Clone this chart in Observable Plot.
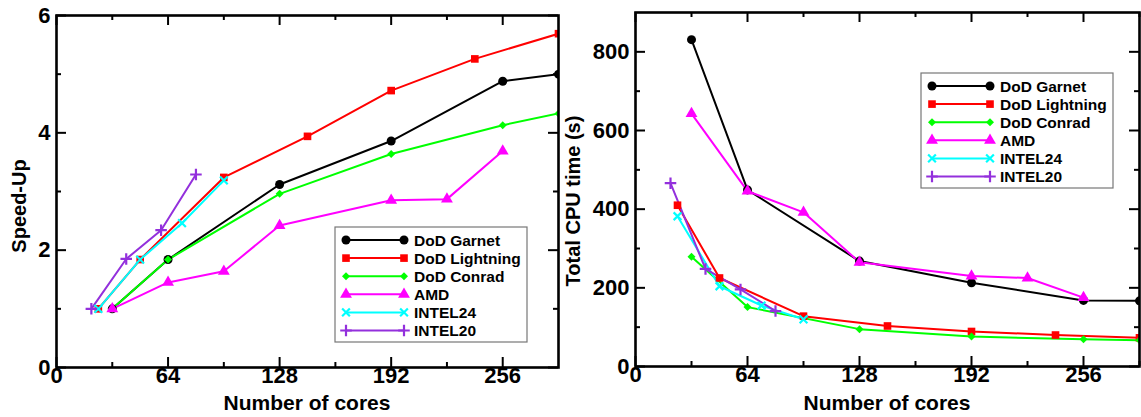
<!DOCTYPE html>
<html><head><meta charset="utf-8">
<script src="https://cdn.jsdelivr.net/npm/d3@7"></script>
<script src="https://cdn.jsdelivr.net/npm/@observablehq/plot@0.6"></script>
<style>
body{margin:0;background:#fff;}
#wrap{position:relative;width:1141px;height:417px;overflow:hidden;font-family:"Liberation Sans",Arial,sans-serif;}
.panel{position:absolute;top:0;}
.legend{position:absolute;}
.overlay{position:absolute;left:0;top:0;pointer-events:none;}
</style></head><body><div id="wrap"></div>
<script>
const seriesNames = ["DoD Garnet","DoD Lightning","DoD Conrad","AMD","INTEL24","INTEL20"];
const seriesColors = ["#000000","#ff0000","#00ff00","#ff00ff","#00ffff","#9330dc"];
const seriesSymbols = ["circle","square","diamond2","triangle","times","plus"];

const coresGarnet = [32,64,128,192,256,288];
const speedGarnet = [1,1.84,3.12,3.86,4.88,5.0];
const timeGarnet = [831,449,268,213,168,167];

const coresLightning = [24,48,96,144,192,240,288];
const speedLightning = [1,1.84,3.24,3.94,4.72,5.26,5.69];
const timeLightning = [410,225,128,103,89,80,73];

const coresConrad = [32,64,128,192,256,288];
const speedConrad = [1,1.84,2.96,3.64,4.13,4.33];
const timeConrad = [279,151,95,76,69,67];

const coresAMD = [32,64,96,128,192,224,256];
const speedAMD = [1,1.45,1.64,2.42,2.85,2.87,3.69];
const timeAMD = [643,446,392,265,230,225,175];

const coresIntel24 = [24,48,72,96];
const speedIntel24 = [1,1.84,2.46,3.19];
const timeIntel24 = [382,204,155,120];

const coresIntel20 = [20,40,60,80];
const speedIntel20 = [1,1.85,2.34,3.29];
const timeIntel20 = [466,248,196,141];

const xMajorTicks = [0,64,128,192,256];
const xMinorTicks = [32,96,160,224];
const speedMajorTicks = [0,2,4,6];
const speedMinorTicks = [1,3,5];
const timeMajorTicks = [0,200,400,600,800];
const timeMinorTicks = [100,300,500,700];

const coresAll = [coresGarnet,coresLightning,coresConrad,coresAMD,coresIntel24,coresIntel20];
const speedAll = [speedGarnet,speedLightning,speedConrad,speedAMD,speedIntel24,speedIntel20];
const timeAll = [timeGarnet,timeLightning,timeConrad,timeAMD,timeIntel24,timeIntel20];

const FONT = "Liberation Sans, Arial, Helvetica, sans-serif";
const symbolR = {circle:4.5, square:4.3, diamond2:3.6, triangle:4.4, times:3.6, plus:3.8};
const strokeSymbols = new Set(["times","plus"]);

function rows(values){
  return seriesNames.flatMap((name,i)=>coresAll[i].map((c,j)=>({series:name, idx:i, cores:c, value:values[i][j]})));
}

function panel(o){
  const data = rows(o.values);
  const H = 417 - o.mT - o.mB, W = o.width - o.mL - o.mR;
  const major = 10, minor = 5;
  const marks = [];
  marks.push(Plot.tickX(o.xMajor, {x:d=>d, insetTop:H-major, strokeWidth:2}));
  marks.push(Plot.tickX(o.xMajor, {x:d=>d, insetBottom:H-major, strokeWidth:2}));
  marks.push(Plot.tickX(o.xMinor, {x:d=>d, insetTop:H-minor, strokeWidth:2}));
  marks.push(Plot.tickX(o.xMinor, {x:d=>d, insetBottom:H-minor, strokeWidth:2}));
  marks.push(Plot.tickY(o.yMajor, {y:d=>d, insetRight:W-major, strokeWidth:2}));
  marks.push(Plot.tickY(o.yMajor, {y:d=>d, insetLeft:W-major, strokeWidth:2}));
  marks.push(Plot.tickY(o.yMinor, {y:d=>d, insetRight:W-minor, strokeWidth:2}));
  marks.push(Plot.tickY(o.yMinor, {y:d=>d, insetLeft:W-minor, strokeWidth:2}));
  seriesNames.forEach((name,i)=>{
    const sub = data.filter(d=>d.idx===i);
    marks.push(Plot.line(sub, {x:"cores", y:"value", stroke:seriesColors[i], strokeWidth:2, clip:true}));
  });
  seriesNames.forEach((name,i)=>{
    const sub = data.filter(d=>d.idx===i);
    const sym = seriesSymbols[i];
    const opts = {x:"cores", y:"value", symbol:sym, r:symbolR[sym], clip:true};
    if (strokeSymbols.has(sym)) { opts.stroke = seriesColors[i]; opts.strokeWidth = 2.2; opts.fill = "none"; }
    else { opts.fill = seriesColors[i]; opts.stroke = "none"; }
    marks.push(Plot.dot(sub, opts));
  });
  marks.push(Plot.frame({stroke:"black", strokeWidth:2.6}));
  marks.push(Plot.text(o.xMajor, {x:d=>d, text:d=>String(d), frameAnchor:"bottom", dy:15, fontSize:22, fontWeight:"bold", fill:"black"}));
  marks.push(Plot.text(o.yMajor, {y:d=>d, text:d=>String(d), frameAnchor:"left", dx:-6, textAnchor:"end", fontSize:22, fontWeight:"bold", fill:"black"}));
  return Plot.plot({
    width:o.width, height:417,
    marginLeft:o.mL, marginRight:o.mR, marginTop:o.mT, marginBottom:o.mB,
    x:{domain:[0,288], axis:null},
    y:{domain:o.yDomain, axis:null},
    style:{background:"transparent", overflow:"visible", fontFamily:FONT, color:"black"},
    marks
  });
}

function legend(left, top){
  const w=192, h=115;
  const svg = d3.create("svg").attr("width",w+2).attr("height",h+2)
    .attr("class","legend").style("left",(left-1)+"px").style("top",(top-1)+"px");
  svg.append("rect").attr("x",1).attr("y",1).attr("width",w).attr("height",h)
    .attr("fill","white").attr("stroke","#777").attr("stroke-width",1.2);
  seriesNames.forEach((name,i)=>{
    const y = 14 + i*18.1;
    const g = svg.append("g");
    g.append("line").attr("x1",12).attr("x2",70).attr("y1",y).attr("y2",y)
      .attr("stroke",seriesColors[i]).attr("stroke-width",2);
    const sym = seriesSymbols[i];
    const type = {circle:d3.symbolCircle, square:d3.symbolSquare, diamond2:d3.symbolDiamond2, triangle:d3.symbolTriangle, times:d3.symbolTimes, plus:d3.symbolPlus}[sym];
    const r = symbolR[sym];
    const path = d3.symbol(type, Math.PI*r*r)();
    [12,70].forEach(x=>{
      const p = g.append("path").attr("d",path).attr("transform",`translate(${x},${y})`);
      if (strokeSymbols.has(sym)) p.attr("fill","none").attr("stroke",seriesColors[i]).attr("stroke-width",2.2);
      else p.attr("fill",seriesColors[i]);
    });
    g.append("text").attr("x",80).attr("y",y).attr("dy","0.36em")
      .attr("font-family",FONT).attr("font-weight","bold").attr("font-size",15.5)
      .attr("fill","black").text(name);
  });
  return svg.node();
}

function overlay(){
  const svg = d3.create("svg").attr("class","overlay").attr("width",1141).attr("height",417);
  const labels = [
    {t:"Speed-Up", x:19, y:206, rot:-90, size:20},
    {t:"Total CPU time (s)", x:573, y:201, rot:-90, size:20},
    {t:"Number of cores", x:307, y:402, rot:0, size:21},
    {t:"Number of cores", x:887, y:402, rot:0, size:21}
  ];
  labels.forEach(l=>{
    svg.append("text").attr("transform",`translate(${l.x},${l.y}) rotate(${l.rot})`)
      .attr("text-anchor","middle").attr("dy","0.36em")
      .attr("font-family",FONT).attr("font-weight","bold").attr("font-size",l.size)
      .attr("fill","black").text(l.t);
  });
  return svg.node();
}

const wrap = document.getElementById("wrap");
const left = panel({values:speedAll, yDomain:[0,6], xMajor:xMajorTicks, xMinor:xMinorTicks,
  yMajor:speedMajorTicks, yMinor:speedMinorTicks,
  width:562, mL:56, mR:4, mT:15, mB:50});
left.classList.add("panel"); left.style.left="0px"; left.style.position="absolute";
wrap.appendChild(left);
const right = panel({values:timeAll, yDomain:[0,900], xMajor:xMajorTicks, xMinor:xMinorTicks.concat([288]),
  yMajor:timeMajorTicks, yMinor:timeMinorTicks,
  width:586, mL:80, mR:2, mT:12, mB:51});
right.classList.add("panel"); right.style.left="555px"; right.style.position="absolute";
wrap.appendChild(right);
wrap.appendChild(legend(335,227));
wrap.appendChild(legend(921,73));
wrap.appendChild(overlay());
</script></body></html>
